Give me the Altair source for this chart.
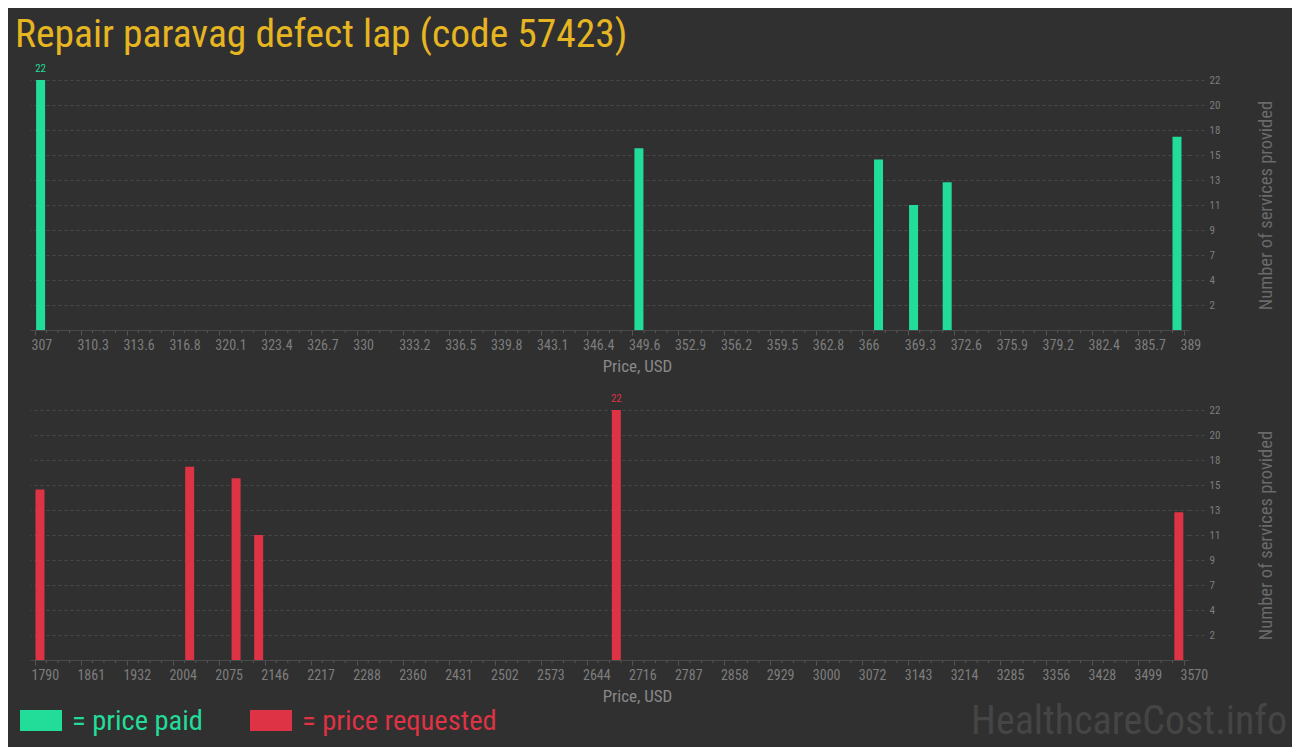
import altair as alt
import pandas as pd
import numpy as np

TITLE = "Repair paravag defect lap (code 57423)"

# price paid (USD) and number of services
paid_price = [307.4, 350.1, 367.2, 369.7, 372.1, 388.5]
paid_count = [22, 16, 15, 11, 13, 17]

# price requested (USD) and number of services
req_price = [1797.7, 2029.6, 2101.5, 2136.5, 2690.6, 3562.0]
req_count = [15, 17, 16, 11, 22, 13]

paid_domain = [307, 389]
req_domain = [1790, 3570]
y_ticks = [2.2, 4.4, 6.6, 8.8, 11, 13.2, 15.4, 17.6, 19.8, 22]

GREEN = "#22dd99"
RED = "#dd3344"
GOLD = "#e6b522"
BG = "#303030"
NARROW = "Roboto Condensed, Liberation Sans Narrow, DejaVu Sans Condensed, Roboto, sans-serif"

W, H = 1159, 250


def panel(prices, counts, domain, fmt, color):
    df = pd.DataFrame({"price": prices, "count": counts})
    majors = np.linspace(domain[0], domain[1], 26)
    step = (majors[1] - majors[0]) / 4
    minors = [m + k * step for m in majors[:-1] for k in (1, 2, 3)]
    majors = [round(float(v), 2) for v in majors]

    xenc = alt.X(
        "price:Q",
        scale=alt.Scale(domain=domain, nice=False, zero=False),
        axis=alt.Axis(
            values=majors, tickCount=40, format=fmt, title="Price, USD", grid=False,
            labelAlign="left", labelOffset=-4, tickSize=5, labelPadding=3,
            labelOverlap=False,
            titleX=607, titleAlign="center", titlePadding=6,
            titleColor="#888888", titleFontSize=17,
        ),
    )
    yenc = alt.Y(
        "count:Q",
        scale=alt.Scale(domain=[0, 22], nice=False),
        axis=alt.Axis(
            orient="right", values=y_ticks, tickCount=20, format=".0f",
            title="Number of services provided", grid=True,
            gridDash=[3, 3], gridColor="#484848", tickDash=[3, 3],
            tickSize=17, tickColor="#484848", domain=False, labelPadding=3,
            labelOverlap=False, labelFontSize=11,
            titleAngle=270, titleBaseline="top",
            titlePadding=37, titleFontSize=18.5, titleColor="#6a6a6a",
        ),
    )
    bars = alt.Chart(df).mark_bar(color=color, size=9).encode(x=xenc, y=yenc)
    label = (
        alt.Chart(df)
        .transform_joinaggregate(mx="max(count)")
        .transform_filter("datum.count == datum.mx")
        .mark_text(color=color, dy=-8, baseline="alphabetic", fontSize=11, font=NARROW)
        .encode(x="price:Q", y="count:Q", text="count:Q")
    )
    minor = (
        alt.Chart(pd.DataFrame({"price": minors}))
        .mark_rule(color="#555555")
        .encode(x="price:Q", y=alt.value(H), y2=alt.value(H + 3))
    )
    return [bars, minor, label]


top = alt.layer(*panel(paid_price, paid_count, paid_domain, ".1~f", GREEN)).properties(width=W, height=H)

one = alt.Data(values=[{}])
legend = [
    alt.Chart(one).mark_rect(color=GREEN).encode(
        x=alt.value(-10), x2=alt.value(32), y=alt.value(300), y2=alt.value(321)),
    alt.Chart(one).mark_text(text="= price paid", color=GREEN, fontSize=28.5, font=NARROW,
                             align="left", baseline="alphabetic").encode(
        x=alt.value(42), y=alt.value(320)),
    alt.Chart(one).mark_rect(color=RED).encode(
        x=alt.value(220), x2=alt.value(262), y=alt.value(300), y2=alt.value(321)),
    alt.Chart(one).mark_text(text="= price requested", color=RED, fontSize=28.5, font=NARROW,
                             align="left", baseline="alphabetic").encode(
        x=alt.value(272), y=alt.value(320)),
    alt.Chart(one).mark_text(text="HealthcareCost.info", color="#454545", fontSize=40, font=NARROW,
                             align="right", baseline="alphabetic").encode(
        x=alt.value(1257), y=alt.value(324)),
]

bottom = alt.layer(*panel(req_price, req_count, req_domain, ".0f", RED), *legend).properties(width=W, height=H)

chart = (
    alt.vconcat(top, bottom, spacing=80, bounds="flush")
    .properties(
        title=alt.TitleParams(
            text=TITLE, anchor="start", frame="group", dx=-15, offset=8,
            fontSize=39.5, font=NARROW, fontWeight="normal", color=GOLD,
        ),
        padding={"left": 7, "top": 6, "right": 5, "bottom": 5},
        background=BG,
    )
    .configure_view(stroke=None)
    .configure_axis(
        labelFont=NARROW, labelFontSize=14, labelColor="#7d7d7d",
        titleFont=NARROW, titleFontWeight="normal",
        tickColor="#555555", domainColor="#4a4a4a",
    )
)

chart.save("out.html", embed_options={"renderer": "svg", "actions": False})
